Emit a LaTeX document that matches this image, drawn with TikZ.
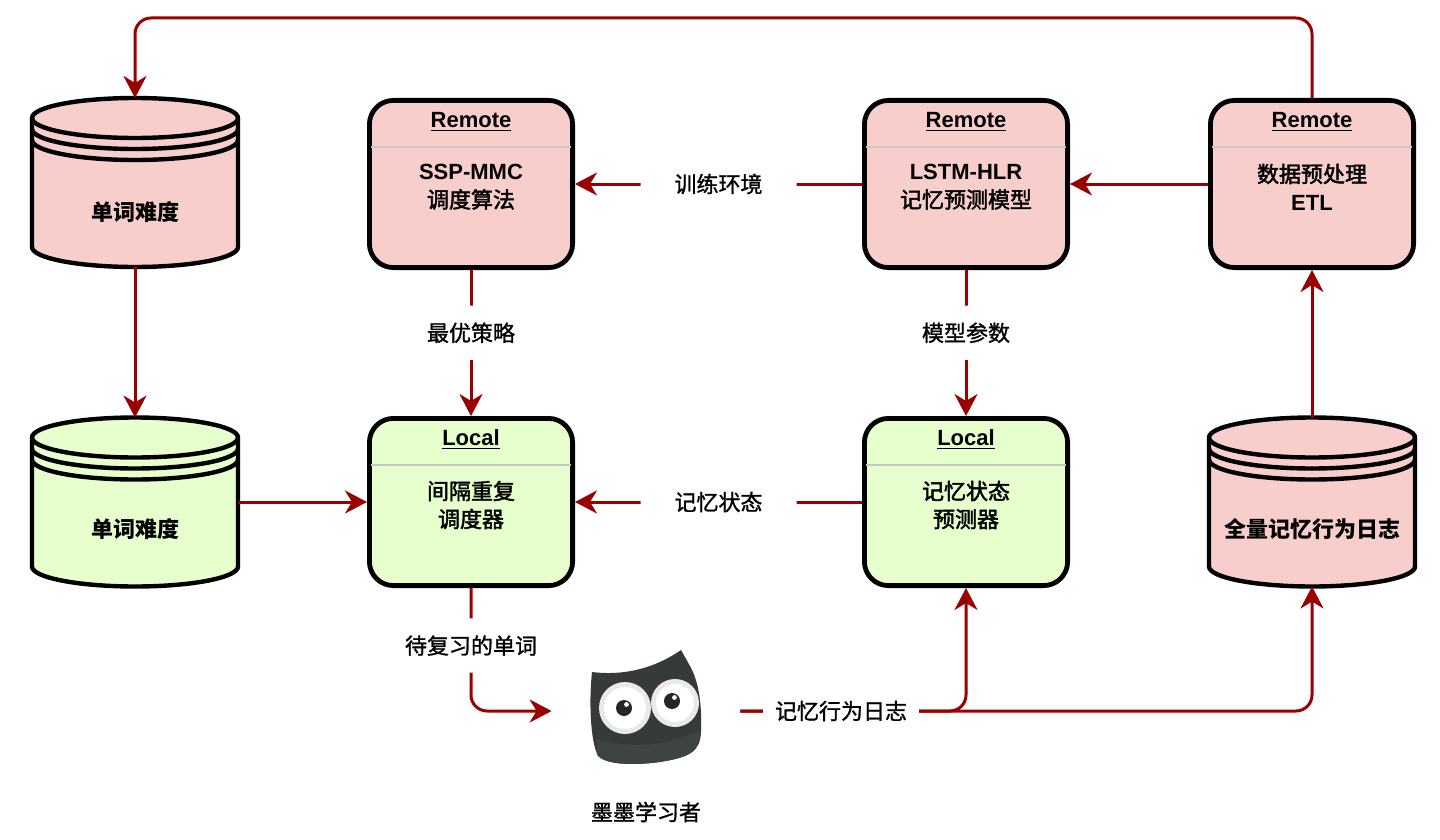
\documentclass[tikz,border=0pt]{standalone}
\usepackage{fontspec}
\setmainfont{Liberation Sans}
\newfontfamily\cjk{Noto Sans CJK SC}
\newfontfamily\cjkm[FakeBold=2]{Noto Sans CJK SC}
\newfontfamily\cjkl[FakeBold=1.2]{Noto Sans CJK SC}
\usetikzlibrary{arrows.meta}
\definecolor{pinkf}{HTML}{F8CECC}
\definecolor{greenf}{HTML}{E6FFCC}
\definecolor{arrred}{HTML}{990000}
\definecolor{owlc}{HTML}{363A3A}
\definecolor{owlbelly}{HTML}{3E4343}
\definecolor{owleye}{HTML}{E9E9E9}
\newcommand\cylshape[4]{%
  \pgfmathsetmacro\cyt{#2+20}\pgfmathsetmacro\cyb{#3-20}%
  \filldraw[fill=#4, cylline] ({#1-103},\cyt) -- ({#1-103},\cyb)
    arc[start angle=180,end angle=360,x radius=51.5pt,y radius=10pt]
    -- ({#1+103},\cyt)
    arc[start angle=0,end angle=180,x radius=51.5pt,y radius=10pt] -- cycle;
  \draw[cylline] ({#1-103},\cyt) arc[start angle=180,end angle=360,x radius=51.5pt,y radius=10pt];
  \draw[cylline] ({#1-103},{\cyt+11}) arc[start angle=180,end angle=360,x radius=51.5pt,y radius=10pt];
  \draw[cylline] ({#1-103},{\cyt+22}) arc[start angle=180,end angle=360,x radius=51.5pt,y radius=10pt];
}
\tikzset{
  cylline/.style={draw=black, line width=2.2pt},
  box/.style={draw=black, line width=2.4pt, rounded corners=12pt,
    minimum width=101.6pt, minimum height=83.6pt, inner sep=0pt},
  cylarea/.style={minimum width=103pt, minimum height=84.5pt, inner sep=0pt, outer sep=0pt},
  hdr/.style={font=\fontsize{11}{13}\selectfont\bfseries, inner sep=0pt},
  body/.style={font=\fontsize{11}{14}\selectfont, align=center, inner sep=0pt},
  cbody/.style={font=\fontsize{11}{14}\selectfont\cjkm, align=center, inner sep=0pt},
  cyltext/.style={font=\fontsize{11}{14}\selectfont\cjk\bfseries, inner sep=0pt},
  arr/.style={draw=arrred, line width=1.5pt, rounded corners=8pt,
    -{Stealth[length=11pt,width=11.5pt,inset=3.5pt]}},
  elab/.style={fill=white, font=\fontsize{11}{13}\selectfont\cjkl, inner xsep=17pt, inner ysep=8.5pt},
  elabs/.style={fill=white, font=\fontsize{11}{13}\selectfont\cjkl, inner xsep=6pt, inner ysep=4pt},
  sepline/.style={draw=black!22, line width=1.3pt},
}
\begin{document}
\begin{tikzpicture}[x=0.5pt,y=-0.5pt]
\useasboundingbox (0,0) rectangle (1440,840);

% cylinders
\cylshape{135}{98}{267}{pinkf}
\cylshape{135}{417.5}{586.5}{greenf}
\cylshape{1312}{417.5}{586.5}{pinkf}
\node[cylarea] (cyl1) at (135,182.5) {};
\node[cylarea] (cyl2) at (135,502) {};
\node[cylarea] (cyl3) at (1312,502) {};
\node[cyltext] (cyl1t) at (135,212) {单词难度};
\node[cyltext] (cyl2t) at (135,529) {单词难度};
\node[cyltext] (cyl3t) at (1312,529) {全量记忆行为日志};

% boxes
\node[box, fill=pinkf] (ssp) at (471,184) {};
\node[box, fill=pinkf] (lstm) at (966,184) {};
\node[box, fill=pinkf] (etl) at (1312,184) {};
\node[box, fill=greenf] (loc1) at (471,502) {};
\node[box, fill=greenf] (loc2) at (966,502) {};
\foreach \cx/\cy in {471/147,966/147,1312/147,471/465,966/465}
  \draw[sepline] ({\cx-100},\cy) -- ({\cx+100},\cy);

\node[hdr] (ssph) at (471,122) {\underline{Remote}};
\node[hdr] (lstmh) at (966,122) {\underline{Remote}};
\node[hdr] (etlh) at (1312,122) {\underline{Remote}};
\node[hdr] (loc1h) at (471,440) {\underline{Local}};
\node[hdr] (loc2h) at (966,440) {\underline{Local}};

\node[body] (sspb) at (471,187) {{\bfseries SSP-MMC}\\{\cjkm 调度算法}};
\node[body] (lstmb) at (966,187) {{\bfseries LSTM-HLR}\\{\cjkm 记忆预测模型}};
\node[body] (etlb) at (1312,187) {{\cjkm 数据预处理}\\{\bfseries ETL}};
\node[cbody] (loc1b) at (471,505) {间隔重复\\调度器};
\node[cbody] (loc2b) at (966,505) {记忆状态\\预测器};

% owl (learner)
\node[minimum width=94pt, minimum height=60pt, inner sep=0pt] (owl) at (646,711) {};
\fill[owlc] (592,672) .. controls (625,676) and (655,668) .. (681,650)
  -- (690,666) .. controls (699,682) and (702,705) .. (701,732)
  .. controls (700,752) and (690,757) .. (660,762)
  .. controls (630,766) and (606,764) .. (598,756)
  .. controls (590,740) and (589,700) .. (592,672) -- cycle;
\fill[owlbelly] (596,738) .. controls (630,750) and (670,746) .. (700,730)
  .. controls (700,752) and (690,757) .. (660,762)
  .. controls (630,766) and (606,764) .. (598,756) -- cycle;
\fill[owleye] (625,708) circle[radius=13pt];
\fill[owleye] (675,703) circle[radius=12pt];
\fill[white] (625,708) circle[radius=10.5pt];
\fill[white] (675,703) circle[radius=9.5pt];
\fill[owlc] (656,722) -- (664,725) -- (660,733) -- cycle;
\fill[black!85] (624,708) circle[radius=4pt];
\fill[black!85] (672,701) circle[radius=4pt];
\fill[white] (626.5,704.5) circle[radius=1.2pt];
\fill[white] (674.5,697.5) circle[radius=1.2pt];
\node[font=\fontsize{11}{13}\selectfont\cjkl, inner sep=0pt] (owllbl) at (646,812) {墨墨学习者};

% connectors
\coordinate (topr) at (1312,18);
\draw[arr] (etl.north) -- (topr) -| (cyl1.north);
\draw[arr] (cyl1.south) -- (cyl2.north);
\draw[arr] (cyl2.east) -- (loc1.west);
\draw[arr] (etl.west) -- (lstm.east);
\draw[arr] (lstm.west) -- node[elab] (l1) {训练环境} (ssp.east);
\draw[arr] (ssp.south) -- node[elab, pos=0.43] (l2) {最优策略} (loc1.north);
\draw[arr] (lstm.south) -- node[elab, pos=0.43] (l3) {模型参数} (loc2.north);
\draw[arr] (loc2.west) -- node[elab] (l4) {记忆状态} (loc1.east);
\draw[arr] (loc1.south) |- node[elab, pos=0.234] (l5) {待复习的单词} (owl.west);
\draw[arr] (owl.east) -| (loc2.south);
\draw[arr] (owl.east) -| (cyl3.south);
\draw[arr] (cyl3.north) -- (etl.south);
\node[elabs] (l6) at (841,711) {记忆行为日志};
\end{tikzpicture}
\end{document}
